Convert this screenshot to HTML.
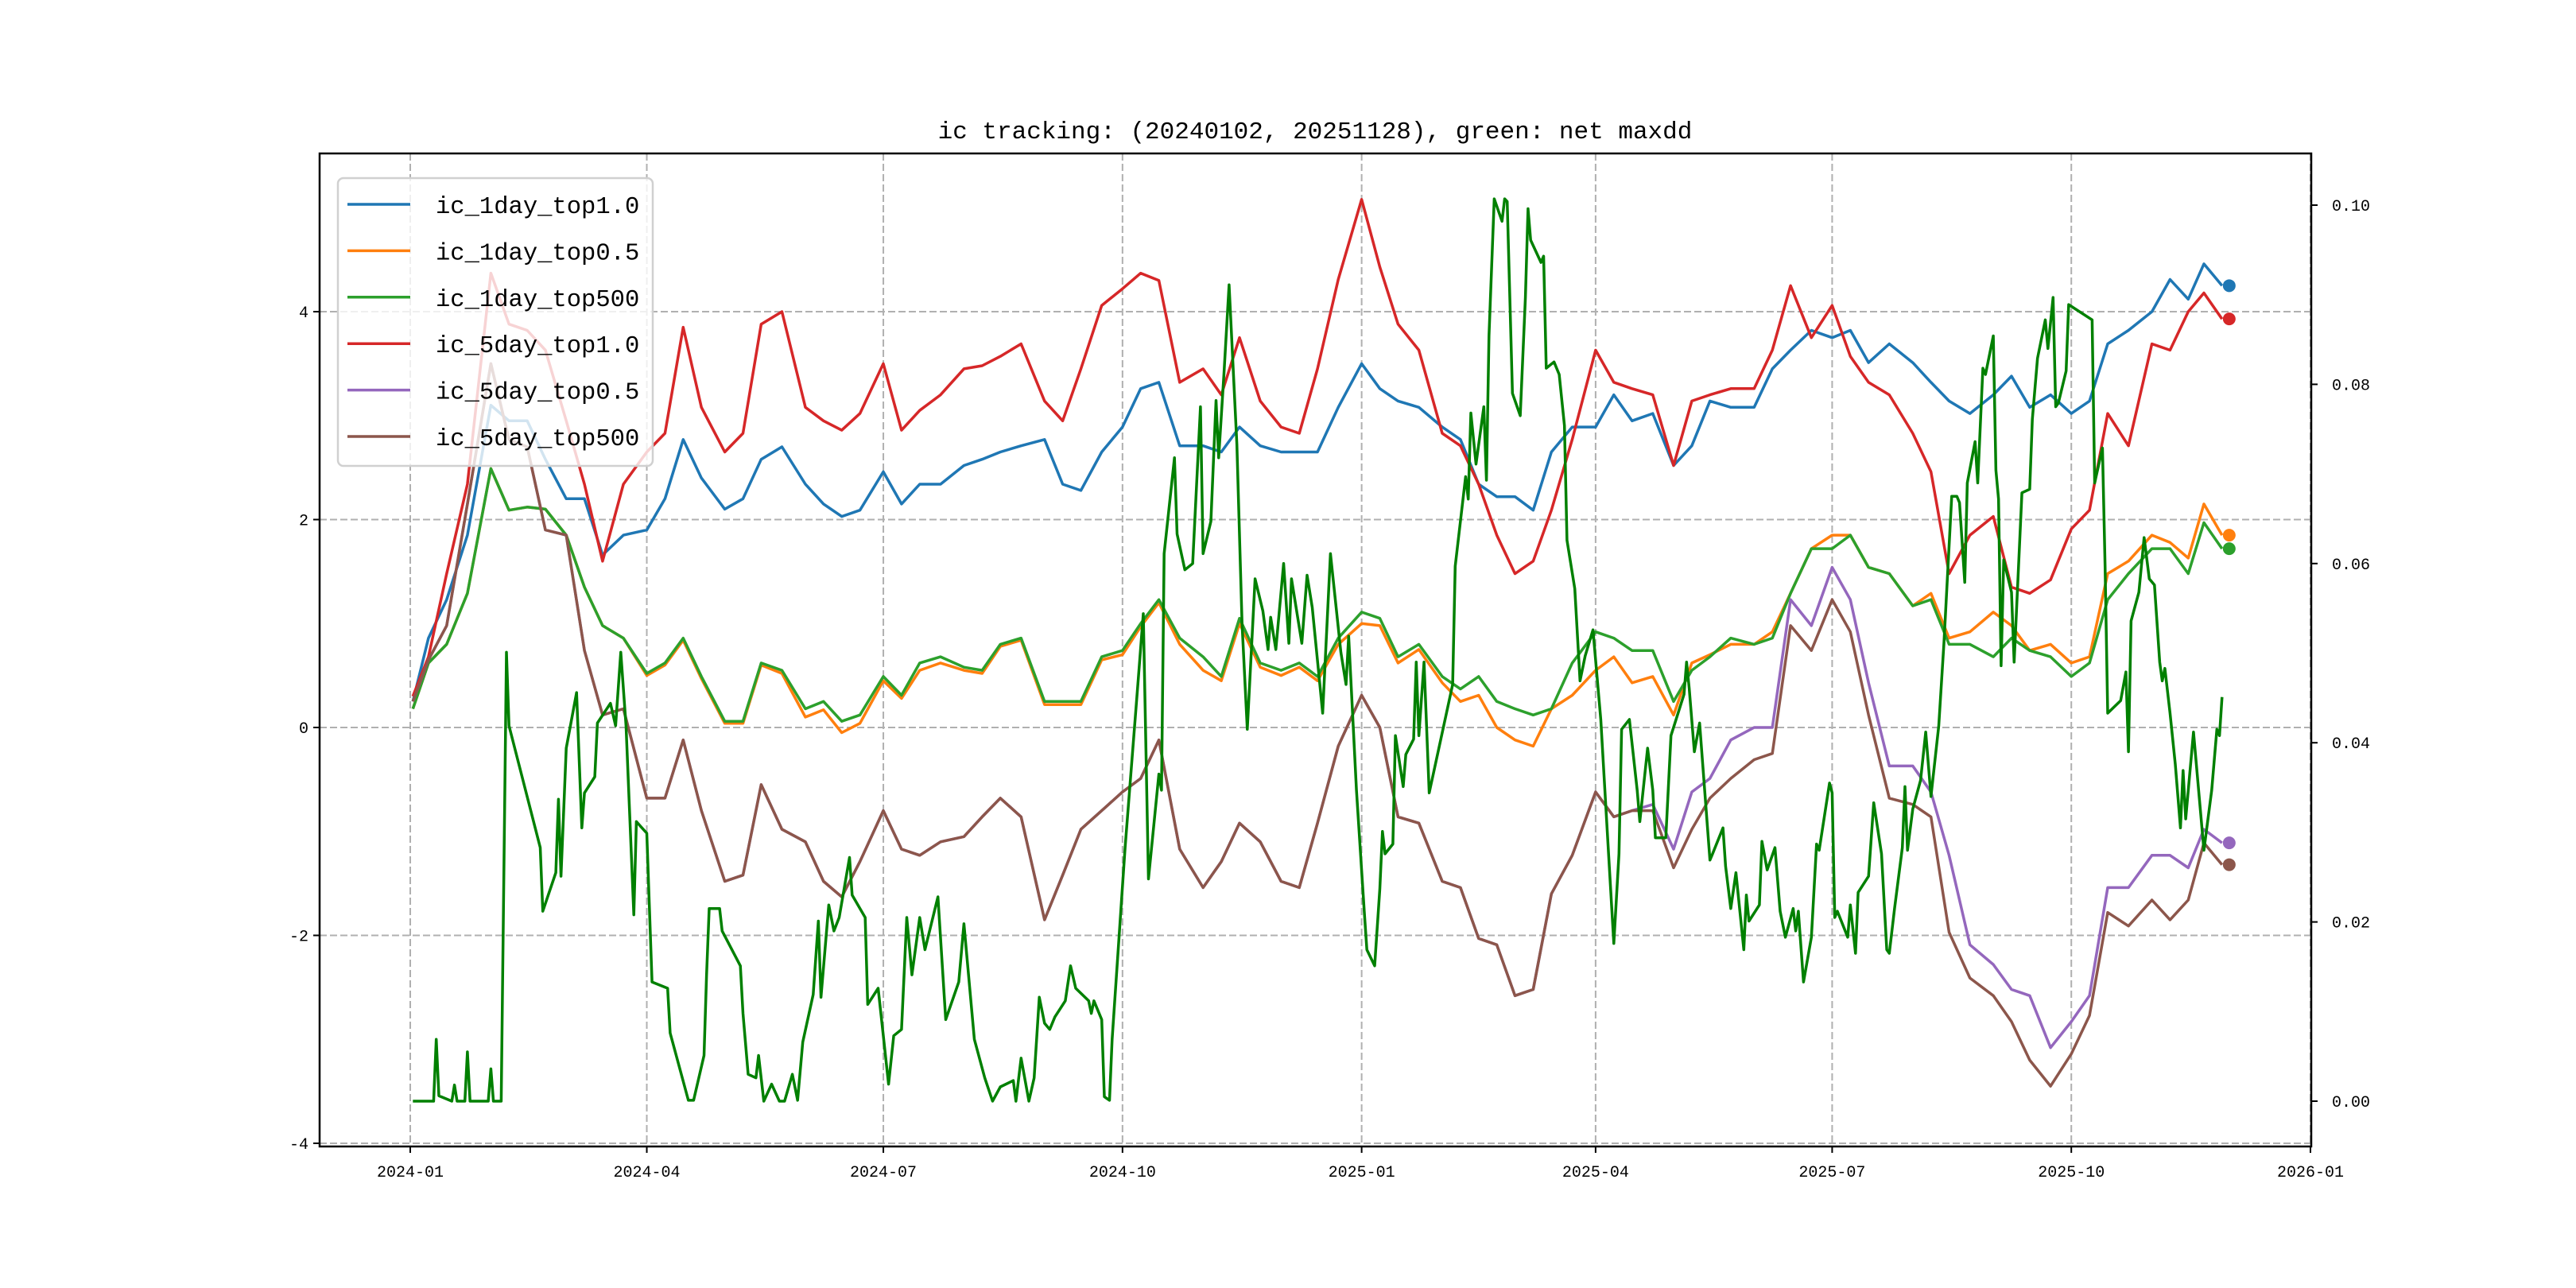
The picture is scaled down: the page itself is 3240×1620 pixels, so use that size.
<!DOCTYPE html>
<html><head><meta charset="utf-8">
<style>
html,body{margin:0;padding:0;background:#fff;}
svg{display:block;}
text{font-family:"Liberation Mono","Noto Sans CJK SC",monospace;fill:#000;}
</style></head>
<body>
<svg id="chart" width="3240" height="1620" viewBox="0 0 3240 1620" xmlns="http://www.w3.org/2000/svg">
<rect width="3240" height="1620" fill="#fff"/>
<text x="1654" y="174" font-size="31" text-anchor="middle">ic tracking: (20240102, 20251128), green: net maxdd</text>
<g id="grid"></g>
<g id="series"></g>
<g id="axes"></g>
<g id="legend"></g>
</svg>
<script>
const dates = ["2024-01-02","2024-01-08","2024-01-15","2024-01-23","2024-02-01","2024-02-08","2024-02-15","2024-02-22","2024-03-01","2024-03-08",
"2024-03-15","2024-03-23","2024-04-01","2024-04-08","2024-04-15","2024-04-22","2024-05-01","2024-05-08","2024-05-15","2024-05-23",
"2024-06-01","2024-06-08","2024-06-15","2024-06-22","2024-07-01","2024-07-08","2024-07-15","2024-07-23","2024-08-01","2024-08-08",
"2024-08-15","2024-08-23","2024-09-01","2024-09-08","2024-09-15","2024-09-23","2024-10-01","2024-10-08","2024-10-15","2024-10-23",
"2024-11-01","2024-11-08","2024-11-15","2024-11-23","2024-12-01","2024-12-08","2024-12-15","2024-12-23","2025-01-01","2025-01-08",
"2025-01-15","2025-01-23","2025-02-01","2025-02-08","2025-02-15","2025-02-22","2025-03-01","2025-03-08","2025-03-15","2025-03-23",
"2025-04-01","2025-04-08","2025-04-15",
"2025-04-23","2025-05-01","2025-05-08","2025-05-15","2025-05-23","2025-06-01","2025-06-08","2025-06-15","2025-06-23","2025-07-01",
"2025-07-08","2025-07-15","2025-07-23","2025-08-01","2025-08-08","2025-08-15","2025-08-23","2025-09-01","2025-09-08","2025-09-15",
"2025-09-23","2025-10-01","2025-10-08","2025-10-15","2025-10-23","2025-11-01","2025-11-08","2025-11-15","2025-11-21","2025-11-28"];
const ic1dayTop10 = [0.25,0.86,1.23,1.85,3.1,2.95,2.95,2.58,2.2,2.2,1.66,1.85,1.9,2.2,2.77,2.4,2.1,2.2,2.58,2.7,2.34,2.15,2.03,2.09,2.46,2.15,2.34,2.34,2.52,2.58,
2.65,2.71,2.77,2.34,2.28,2.65,2.89,3.26,3.32,2.71,2.71,2.65,2.89,2.71,2.65,2.65,2.65,3.08,3.5,3.26,3.14,3.08,2.89,2.77,2.34,2.22,2.22,2.09,2.65,2.89,2.89,3.2,2.95,
3.02,2.52,2.71,3.14,3.08,3.08,3.45,3.63,3.82,3.75,3.82,3.51,3.69,3.51,3.32,3.14,3.02,3.2,3.38,3.08,3.2,3.02,3.14,3.69,3.82,4.0,4.31,4.12,4.46,4.25];
const ic1dayTop05 = [0.18,0.62,0.8,1.29,2.49,2.09,2.12,2.1,1.85,1.35,0.98,0.86,0.5,0.6,0.84,0.47,0.04,0.04,0.6,0.52,0.1,0.17,-0.05,0.04,0.45,0.28,0.55,0.62,0.55,0.52,
0.78,0.84,0.22,0.22,0.22,0.65,0.7,0.97,1.2,0.8,0.55,0.45,1.0,0.58,0.5,0.58,0.45,0.8,1.0,0.98,0.62,0.75,0.43,0.25,0.31,0,-0.12,-0.18,0.18,0.31,0.55,0.68,0.43,
0.49,0.12,0.62,0.7,0.8,0.8,0.92,1.29,1.72,1.85,1.85,1.54,1.48,1.17,1.29,0.86,0.92,1.11,0.98,0.74,0.8,0.62,0.68,1.48,1.6,1.85,1.78,1.63,2.15,1.85];
const ic1dayTop500 = [0.18,0.62,0.8,1.29,2.49,2.09,2.12,2.1,1.85,1.35,0.98,0.86,0.52,0.62,0.86,0.49,0.06,0.06,0.62,0.55,0.18,0.25,0.06,0.12,0.49,0.31,0.62,0.68,0.58,0.55,
0.8,0.86,0.25,0.25,0.25,0.68,0.74,1.0,1.23,0.86,0.68,0.49,1.05,0.62,0.55,0.62,0.49,0.86,1.11,1.05,0.68,0.8,0.49,0.37,0.49,0.25,0.18,0.12,0.18,0.62,0.92,0.86,0.74,
0.74,0.25,0.55,0.68,0.86,0.8,0.86,1.29,1.72,1.72,1.85,1.54,1.48,1.17,1.23,0.8,0.8,0.68,0.86,0.74,0.68,0.49,0.62,1.23,1.48,1.72,1.72,1.48,1.97,1.72];
const ic5dayTop10 = [0.3,0.68,1.48,2.34,4.37,3.88,3.82,3.63,2.95,2.34,1.6,2.34,2.65,2.83,3.85,3.08,2.65,2.83,3.88,4.0,3.08,2.95,2.86,3.02,3.5,2.86,3.05,3.2,3.45,3.48,
3.57,3.69,3.14,2.95,3.45,4.06,4.22,4.37,4.3,3.32,3.45,3.2,3.75,3.14,2.89,2.83,3.45,4.31,5.08,4.43,3.88,3.63,2.83,2.71,2.34,1.85,1.48,1.6,2.09,2.77,3.63,3.32,3.26,
3.2,2.52,3.14,3.2,3.26,3.26,3.63,4.25,3.75,4.06,3.57,3.32,3.2,2.83,2.46,1.48,1.85,2.03,1.35,1.29,1.42,1.91,2.09,3.02,2.71,3.69,3.63,4.0,4.18,3.93];
const ic5dayTop05 = [0.25,0.65,0.98,2.15,3.5,2.77,2.7,1.9,1.85,0.74,0.12,0.18,-0.68,-0.68,-0.12,-0.8,-1.48,-1.42,-0.55,-0.98,-1.1,-1.48,-1.63,-1.29,-0.8,-1.17,-1.23,-1.1,-1.05,-0.86,
-0.68,-0.86,-1.85,-1.42,-0.98,-0.8,-0.62,-0.49,-0.12,-1.17,-1.54,-1.29,-0.92,-1.1,-1.48,-1.54,-0.92,-0.18,0.31,0,-0.86,-0.92,-1.48,-1.54,-2.03,-2.09,-2.58,-2.52,-1.6,-1.23,-0.62,-0.86,-0.8,
-0.74,-1.17,-0.62,-0.49,-0.12,0,0,1.23,0.98,1.54,1.23,0.43,-0.37,-0.37,-0.62,-1.23,-2.09,-2.28,-2.52,-2.58,-3.08,-2.83,-2.58,-1.54,-1.54,-1.23,-1.23,-1.35,-0.98,-1.11];
const ic5dayTop500 = [0.25,0.65,0.98,2.15,3.5,2.77,2.7,1.9,1.85,0.74,0.12,0.18,-0.68,-0.68,-0.12,-0.8,-1.48,-1.42,-0.55,-0.98,-1.1,-1.48,-1.63,-1.29,-0.8,-1.17,-1.23,-1.1,-1.05,-0.86,
-0.68,-0.86,-1.85,-1.42,-0.98,-0.8,-0.62,-0.49,-0.12,-1.17,-1.54,-1.29,-0.92,-1.1,-1.48,-1.54,-0.92,-0.18,0.31,0,-0.86,-0.92,-1.48,-1.54,-2.03,-2.09,-2.58,-2.52,-1.6,-1.23,-0.62,-0.86,-0.8,
-0.8,-1.35,-0.98,-0.68,-0.49,-0.31,-0.25,0.98,0.74,1.23,0.92,0.12,-0.68,-0.74,-0.86,-1.97,-2.41,-2.58,-2.83,-3.2,-3.45,-3.14,-2.77,-1.78,-1.91,-1.66,-1.85,-1.66,-1.11,-1.32];
// net maxdd: [days since 2024-01-01, value]
const netMaxdd = [[1,0],[9,0],[10,.0069],[11,.0006],[16,0],[17,.0018],[18,0],[21,0],[22,.0055],[23,0],[30,0],[31,.0036],[32,0],[35,0],[37,.0501],[38,.0419],[50,.0283],[51,.0212],[56,.0255],[57,.0337],[58,.0251],[60,.0394],[64,.0456],[66,.0305],[67,.0344],[71,.0362],[72,.0422],[77,.0444],[79,.0419],[81,.0501],[83,.0419],[86,.0208],[87,.0312],[91,.0299],[93,.0133],[99,.0126],[100,.0076],[107,.0001],[109,.0001],[113,.0051],[114,.0141],[115,.0215],[119,.0215],[120,.019],[127,.0151],[128,.0098],[130,.003],[133,.0026],[134,.0051],[136,0],[139,.0019],[142,0],[144,0],[147,.003],[149,.0001],[151,.0066],[155,.0119],[157,.0201],[158,.0116],[161,.0219],[163,.019],[165,.0205],[169,.0272],[170,.023],[175,.0205],[176,.0108],[180,.0126],[182,.0073],[184,.0019],[186,.0073],[189,.008],[191,.0205],[193,.0141],[196,.0205],[198,.0169],[203,.0228],[206,.0091],[211,.0133],[213,.0198],[217,.0069],[221,.0026],[224,0],
[227,.0016],[232,.0023],[233,0],[235,.0048],[238,0],[240,.0026],[242,.0116],[244,.0087],[246,.008],[248,.0094],[252,.0112],[254,.0151],[256,.0126],[261,.0112],[262,.0098],[263,.0112],[266,.0091],[267,.0005],[269,.0001],[270,.0069],[275,.0283],[280,.0469],[282,.0544],[284,.0248],[288,.0365],[289,.0347],[290,.0611],[294,.0718],[295,.0633],[298,.0593],[301,.06],[304,.0775],[305,.0611],[308,.0647],[310,.0782],[311,.0718],[313,.0811],[315,.0911],[318,.0733],[320,.0533],[322,.0415],[325,.0583],[328,.0547],[330,.0504],[331,.054],[333,.0504],[336,.06],[338,.0511],[339,.0583],[343,.0511],[345,.0587],[347,.0551],[351,.0433],[354,.0611],[358,.0501],[360,.0465],[361,.0519],[364,.0347],[367,.0212],[368,.0169],[371,.0151],[373,.0237],[374,.0301],[375,.0276],[378,.0287],[379,.0408],[382,.0351],[383,.0387],[386,.0404],[387,.049],[388,.0408],[390,.049],[392,.0344],[401,.0465],[402,.0597],[406,.0697],[407,.0672],[408,.0768],[410,.0711],[413,.0775],[414,.0693],[415,.0854],[417,.1007],[420,.0982],[421,.1007],[422,.1004],[424,.079],[427,.0765],[429,.0897],[430,.0996],[431,.0961],[435,.0936],[436,.0943],[437,.0818],[440,.0825],[442,.0811],[444,.0754],[445,.0626],[448,.0572],[450,.0469],[452,.0497],[455,.0526],[458,.0426],[461,.0276],[463,.0176],[465,.0276],[466,.0415],[469,.0426],[472,.0347],[473,.0312],[476,.0394],
[478,.0347],[479,.0294],[483,.0294],[485,.0408],[490,.0454],[491,.049],[492,.0461],[494,.039],[496,.0422],[500,.0269],[501,.0276],[505,.0305],[506,.0262],[508,.0215],[510,.0255],[513,.0169],[514,.023],[515,.0201],[519,.0219],[520,.029],[522,.0258],[525,.0283],[527,.0212],[529,.0183],[532,.0215],[533,.019],[534,.0212],[536,.0133],[539,.0183],[541,.0287],[542,.028],[546,.0355],[547,.0344],[548,.0205],[549,.0212],[553,.0183],[554,.0219],[556,.0165],[557,.0233],[561,.0251],[563,.0333],[566,.0276],[568,.0169],[569,.0165],[571,.0215],[574,.0283],[575,.0351],[576,.028],[578,.0326],[581,.0358],[583,.0412],[585,.034],[588,.0419],[590,.0511],[593,.0675],[595,.0675],[596,.0668],[598,.0579],[599,.069],[602,.0736],[603,.069],[605,.0818],[606,.0811],[609,.0854],[610,.0704],[611,.0672],[612,.0486],[613,.0604],[616,.0568],[617,.049],[620,.0679],[623,.0683],[624,.0761],[626,.0829],[629,.0872],[630,.084],[632,.0897],[633,.0775],[634,.0779],[637,.0815],[638,.0889],[647,.0872],[648,.069],[651,.0729],[652,.0597],[653,.0433],[658,.0447],[660,.0479],[661,.039],[662,.0536],[665,.0568],[667,.0629],[669,.0583],[671,.0576],[673,.049],[674,.0469],[675,.0483],[677,.0433],[679,.0376],[681,.0305],[682,.0369],[683,.0315],[686,.0412],[690,.028],[693,.0347],[695,.0415],[696,.0408],[697,.0451]];
const leftTicks = [-4,-2,0,2,4];
const rightTicks = [0.00,0.02,0.04,0.06,0.08,0.10];
const xTickLabels = ["2024-01","2024-04","2024-07","2024-10","2025-01","2025-04","2025-07","2025-10","2026-01"];
const seriesNames = ["ic_1day_top1.0","ic_1day_top0.5","ic_1day_top500","ic_5day_top1.0","ic_5day_top0.5","ic_5day_top500"];

const NS = "http://www.w3.org/2000/svg";
const PL = 402, PR = 2907, PT = 193, PB = 1442;
const T0 = Date.UTC(2024,0,1);
function dayOf(s){const p=s.split("-").map(Number);return (Date.UTC(p[0],p[1]-1,p[2]||1)-T0)/86400000;}
function xScale(day){return 516 + day*(2390/731);}
function yLeft(v){return 915 - v*130.75;}
function yRight(v){return 1385 - v*11270;}
function mk(tag, attrs, parent){const e=document.createElementNS(NS,tag);for(const k in attrs)e.setAttribute(k,attrs[k]);parent.appendChild(e);return e;}

const grid = document.getElementById('grid');
const axes = document.getElementById('axes');
const ser = document.getElementById('series');
const leg = document.getElementById('legend');

xTickLabels.forEach(function(lab){
  const x = xScale(dayOf(lab+"-01"));
  const g = mk('line',{x1:x,x2:x,y1:PT,y2:PB,stroke:'#b0b0b0','stroke-width':2,'stroke-dasharray':'9,4'},grid);
  
  
  const t = mk('line',{x1:x,x2:x,y1:PB,y2:PB+8,stroke:'#000','stroke-width':2},axes);
  
  
  const tx = mk('text',{x:x,y:PB+38,'font-size':20,'text-anchor':'middle'},axes);
  tx.textContent = lab;
  
  
});
leftTicks.forEach(function(v){
  const y = yLeft(v);
  const g = mk('line',{x1:PL,x2:PR,y1:y,y2:y,stroke:'#b0b0b0','stroke-width':2,'stroke-dasharray':'9,4'},grid);
  
  
  const t = mk('line',{x1:PL-8,x2:PL,y1:y,y2:y,stroke:'#000','stroke-width':2},axes);
  
  
  const tx = mk('text',{x:PL-14,y:y+7,'font-size':20,'text-anchor':'end'},axes);
  tx.textContent = String(v);
  
  
});
rightTicks.forEach(function(v){
  const y = yRight(v);
  const t = mk('line',{x1:PR,x2:PR+8,y1:y,y2:y,stroke:'#000','stroke-width':2},axes);
  
  
  const tx = mk('text',{x:PR+26,y:y+7,'font-size':20,'text-anchor':'start'},axes);
  tx.textContent = v.toFixed(2);
  
  
});

const colors = ['#1f77b4','#ff7f0e','#2ca02c','#d62728','#9467bd','#8c564b'];
const seriesData = [ic1dayTop10, ic1dayTop05, ic1dayTop500, ic5dayTop10, ic5dayTop05, ic5dayTop500];
const drawOrder = [0,1,2,3,4,5];
drawOrder.forEach(function(i){
  const vals = seriesData[i];
  const pts = vals.map(function(v,j){return xScale(dayOf(dates[j])).toFixed(1)+','+yLeft(v).toFixed(1);}).join(' ');
  const p = mk('polyline',{points:pts,fill:'none',stroke:colors[i],'stroke-width':3.5,'stroke-linejoin':'round'},ser);
  
  
});
const mddPts = netMaxdd.map(function(d){return xScale(d[0]).toFixed(1)+','+yRight(d[1]).toFixed(1);}).join(' ');
const mdd = mk('polyline',{points:mddPts,fill:'none',stroke:'#008000','stroke-width':3.5,'stroke-linejoin':'round'},ser);


drawOrder.forEach(function(i){
  const vals = seriesData[i];
  const n = vals.length-1;
  const c = mk('circle',{cx:xScale(dayOf(dates[n]))+9,cy:yLeft(vals[n]),r:8,fill:colors[i]},ser);
  
  
});

const sp = mk('rect',{x:PL,y:PT,width:PR-PL,height:PB-PT,fill:'none',stroke:'#000','stroke-width':2.5},axes);



const lb = mk('rect',{x:425,y:224,width:396,height:362,rx:7,fill:'#fff','fill-opacity':0.8,stroke:'#d0d0d0','stroke-width':2.5},leg);


seriesNames.forEach(function(name,i){
  const y = 257 + i*58.4;
  const l = mk('line',{x1:437,x2:516,y1:y,y2:y,stroke:colors[i],'stroke-width':3.5},leg);
  
  
  const t = mk('text',{x:548,y:y+11,'font-size':30.5},leg);
  t.textContent = name;
  
  
});
</script>
</body></html>
